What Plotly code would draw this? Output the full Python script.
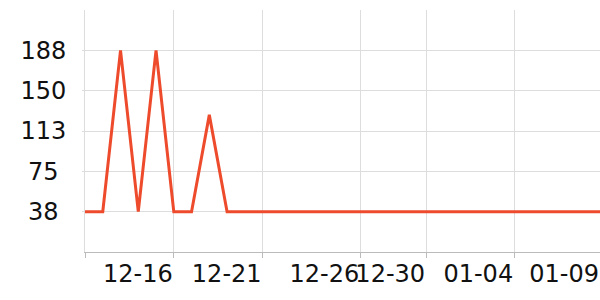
import plotly.graph_objects as go
import pandas as pd

dates = [d.strftime("%Y-%m-%d") for d in pd.date_range("2023-12-11", "2024-01-09", freq="D")]
values = [37.5, 37.5, 187.5, 37.5, 187.5, 37.5, 37.5, 127.5] + [37.5] * 22

x_tickvals = ["2023-12-11", "2023-12-16", "2023-12-21", "2023-12-26 12:00",
              "2023-12-30 05:00", "2024-01-04 04:00", "2024-01-09"]
x_ticktext = ["", "12-16", "12-21", "12-26", "12-30", "01-04", "01-09"]
y_tickvals = [37.5, 75, 112.5, 150, 187.5]
y_ticktext = ["38\u00a0", "75\u00a0", "113", "150", "188"]

fig = go.Figure(go.Scatter(x=dates, y=values, mode="lines",
                           line=dict(color="#ee4b2d", width=3)))
fig.update_layout(
    width=600, height=300, margin=dict(l=85, r=0, t=10, b=48),
    paper_bgcolor="white", plot_bgcolor="white", showlegend=False,
    font=dict(family="DejaVu Sans", size=24, color="#111"),
)
fig.update_xaxes(type="date", range=["2023-12-11", "2024-01-09"],
                 tickmode="array", tickvals=x_tickvals, ticktext=x_ticktext,
                 ticklabelposition="outside left", tickangle=0,
                 showgrid=True, gridcolor="#dddddd", gridwidth=1,
                 showline=True, linecolor="#bbbbbb", linewidth=1,
                 ticks="outside", ticklen=5, tickcolor="#bbbbbb", zeroline=False)
fig.update_yaxes(range=[0, 225], tickmode="array", tickvals=y_tickvals, ticktext=y_ticktext,
                 showgrid=True, gridcolor="#dddddd", gridwidth=1,
                 showline=True, linecolor="#dddddd", linewidth=1,
                 ticks="outside", ticklen=2, tickcolor="#dddddd",
                 ticklabelstandoff=11, zeroline=False)
fig.write_html("out.html")
